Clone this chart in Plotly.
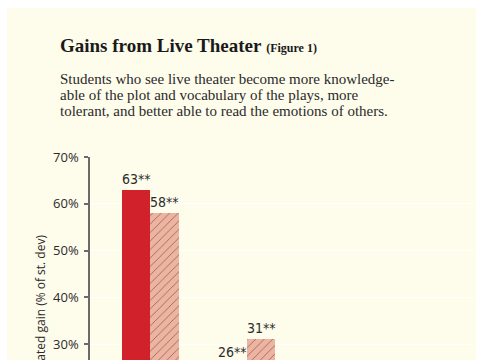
import plotly.graph_objects as go

# ---- data ----
categories = ["Plot knowledge", "Vocabulary"]
series_names = ["Series A", "Series B"]
values_solid = [63, 26]
values_hatched = [58, 31]
label_suffix = "**"
y_ticks = [30, 40, 50, 60, 70]
y_tick_labels = ["30%", "40%", "50%", "60%", "70%"]

W, H = 485, 360
L, R, T, B = 90, 11, 157, 0
PW, PH = W - L - R, H - T - B

Y_TOP = 70
Y_BOTTOM = Y_TOP - (H - T) / 4.675


def px_to_paper_x(px):
    return (px - L) / PW


def px_to_paper_y(py):
    return (H - B - py) / PH


def value_to_paper_y(v):
    return (v - Y_BOTTOM) / (Y_TOP - Y_BOTTOM)


RED = "#D1212B"
PINK = "#EDB4A2"
CREAM = "#FEFCEB"
TXT = "#2b2b2b"
LABEL_FONT = dict(family="Liberation Sans Narrow, DejaVu Sans Condensed, sans-serif",
                  size=14, color=TXT)

xs = list(range(len(categories)))
bw = 0.295

fig = go.Figure()
fig.add_trace(go.Bar(
    x=xs, y=values_solid, name=series_names[0],
    width=bw, offset=-bw, marker=dict(color=RED, line=dict(width=0)),
))
fig.add_trace(go.Bar(
    x=xs, y=values_hatched, name=series_names[1],
    width=bw, offset=0,
    marker=dict(color=PINK, line=dict(width=0),
                pattern=dict(shape="/", fgcolor="#5a2e25", bgcolor=PINK,
                             size=6, solidity=0.12, fgopacity=0.7)),
))

annotations = []
for vals, dx in ((values_solid, -bw / 2), (values_hatched, bw / 2)):
    for i, v in enumerate(vals):
        annotations.append(dict(x=xs[i] + dx, y=value_to_paper_y(v),
                                xref="x", yref="paper",
                                text=f"{v}{label_suffix}", showarrow=False,
                                yanchor="bottom", yshift=1, font=LABEL_FONT))

# Title and subtitle
annotations.append(dict(
    x=px_to_paper_x(58), y=px_to_paper_y(46), xref="paper", yref="paper",
    xanchor="left", yanchor="middle", showarrow=False,
    text="<b>Gains from Live Theater</b> <b><span style='font-size:12px'>(Figure 1)</span></b>",
    font=dict(family="Liberation Serif, serif", size=19, color="#1a1a1a")))
subtitle_lines = [
    "Students who see live theater become more knowledge-",
    "able of the plot and vocabulary of the plays, more",
    "tolerant, and better able to read the emotions of others.",
]
for k, line in enumerate(subtitle_lines):
    annotations.append(dict(
        x=px_to_paper_x(58), y=px_to_paper_y(79 + 16 * k), xref="paper", yref="paper",
        xanchor="left", yanchor="middle", showarrow=False, text=line,
        font=dict(family="Liberation Serif, serif", size=15, color="#2a2a2a")))

# Y axis title (rotated, continues below the visible area)
annotations.append(dict(
    x=px_to_paper_x(40), y=px_to_paper_y(233), xref="paper", yref="paper",
    xanchor="center", yanchor="top", showarrow=False, textangle=-90,
    text="Estimated gain (% of st. dev)",
    font=dict(family="Open Sans, sans-serif", size=12, color=TXT)))

shapes = [dict(type="rect", xref="paper", yref="paper", layer="below",
               x0=px_to_paper_x(7), x1=px_to_paper_x(476),
               y0=px_to_paper_y(8), y1=px_to_paper_y(400),
               fillcolor=CREAM, line=dict(width=0))]

fig.update_layout(
    width=W, height=H,
    margin=dict(l=L, r=R, t=T, b=B, pad=0),
    paper_bgcolor="white",
    plot_bgcolor="rgba(0,0,0,0)",
    showlegend=False,
    bargap=0, bargroupgap=0,
    annotations=annotations,
    shapes=shapes,
    xaxis=dict(range=[-0.624, 3.35], visible=False, fixedrange=True),
    yaxis=dict(range=[Y_BOTTOM, Y_TOP], tickvals=y_ticks, ticktext=y_tick_labels,
               showgrid=True, gridcolor="white", gridwidth=1.2,
               zeroline=False, showline=True, linecolor="#6a6a6a", linewidth=1.5,
               ticks="outside", ticklen=4, tickcolor="#6a6a6a", tickwidth=1.5,
               ticklabelstandoff=3,
               tickfont=dict(family="Open Sans, sans-serif", size=13, color=TXT),
               automargin=False, fixedrange=True),
)

fig.write_html("out.html",
               config={"displayModeBar": False},
               post_script="document.body.style.margin='0px';document.body.style.overflow='hidden';")
